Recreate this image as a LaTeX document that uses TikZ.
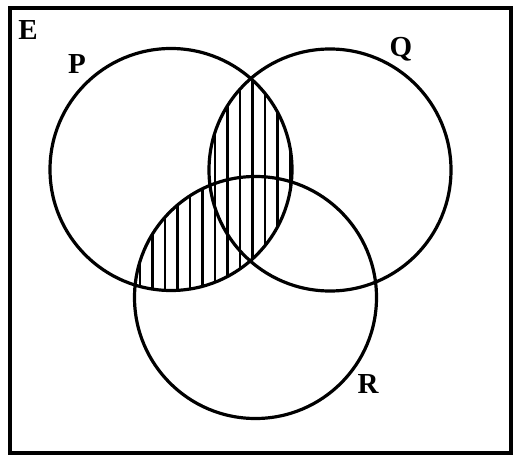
\documentclass[tikz,border=0pt]{standalone}
\usepackage{fontspec}
\setmainfont{Liberation Serif}
\begin{document}
\begin{tikzpicture}[x=1pt,y=-1pt,
  outline/.style={line width=3.2pt},
  hatch/.style={line width=2.6pt},
  lbl/.style={font=\fontsize{29}{29}\selectfont\bfseries, inner sep=0pt}]
\useasboundingbox (0,0) rectangle (527,462);
\fill[white] (0,0) rectangle (527,462);
\coordinate (cp) at (171,169.5);
\coordinate (cq) at (330,170);
\coordinate (cr) at (255.5,297.5);
% hatching P ∩ Q
\begin{scope}
  \clip (cp) circle (121);
  \clip (cq) circle (121);
  \foreach \x in {140,152.5,...,300} \draw[hatch] (\x,40) -- (\x,300);
\end{scope}
% hatching P ∩ R
\begin{scope}
  \clip (cp) circle (121);
  \clip (cr) circle (121);
  \foreach \x in {140,152.5,...,300} \draw[hatch] (\x,40) -- (\x,300);
\end{scope}
\draw[outline] (10,8) rectangle (511,453);
\draw[outline] (cp) circle (121);
\draw[outline] (cq) circle (121);
\draw[outline] (cr) circle (121);
\node[lbl] (E) at (28,30) {E};
\node[lbl] (P) at (77,64) {P};
\node[lbl] (Q) at (401,49) {Q};
\node[lbl] (R) at (368,384) {R};
\end{tikzpicture}
\end{document}
